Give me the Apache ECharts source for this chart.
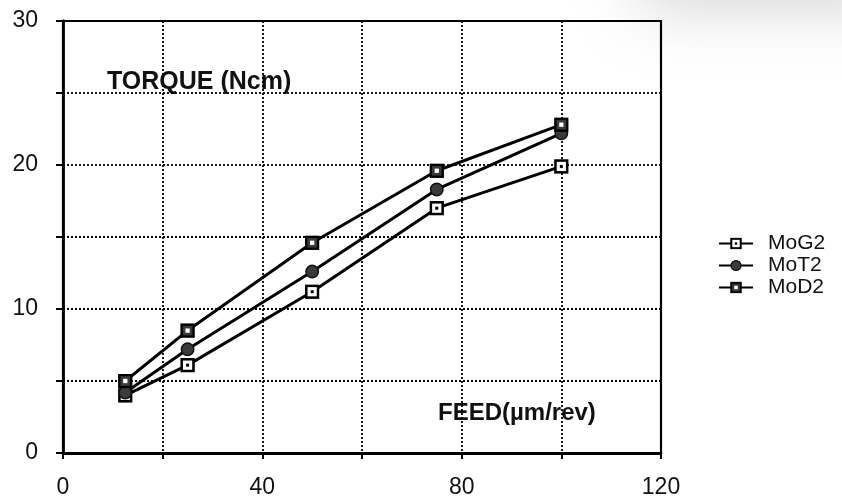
<!DOCTYPE html>
<html>
<head>
<meta charset="utf-8">
<script src="https://cdn.jsdelivr.net/npm/echarts@6/dist/echarts.min.js"></script>
<style>
  html, body { margin: 0; padding: 0; background: #fff; }
  #chart { width: 842px; height: 502px; }
</style>
</head>
<body>
<div id="chart"></div>
<script>
// Feed rate (µm/rev) and measured torque (Ncm) for three drill types
const feed = [12.5, 25, 50, 75, 100];
const moG2 = [4.0, 6.1, 11.2, 17.0, 19.9];
const moT2 = [4.2, 7.2, 12.6, 18.3, 22.2];
const moD2 = [5.0, 8.5, 14.6, 19.6, 22.8];
const seriesNames = ['MoG2', 'MoT2', 'MoD2'];
const xTickLabels = [0, 40, 80, 120];
const yTickLabels = [0, 10, 20, 30];

const FONT = "'Liberation Sans', Arial, Helvetica, sans-serif";

function svgSymbol(body) {
  return 'image://data:image/svg+xml;charset=utf-8,' + encodeURIComponent(
    "<svg xmlns='http://www.w3.org/2000/svg' width='14' height='14' viewBox='0 0 14 14'>" + body + "</svg>");
}
const symOpenSquare = svgSymbol("<rect x='1.5' y='1.5' width='11' height='11' fill='#fff' stroke='#000' stroke-width='2.4'/><rect x='5.6' y='5.6' width='2.8' height='2.8' fill='#000'/>");
const symDisc = svgSymbol("<circle cx='7' cy='7' r='5.8' fill='#3a3a3a' stroke='#111' stroke-width='1.4'/>");
const symFilledSquare = svgSymbol("<rect x='1.4' y='1.4' width='11.2' height='11.2' fill='#3a3a3a' stroke='#000' stroke-width='2.2'/><rect x='5' y='5' width='4' height='4' fill='#fff'/>");

function pairs(ys) { return feed.map((x, i) => [x, ys[i]]); }

function makeSeries(name, ys, symbol) {
  return {
    name: name,
    type: 'line',
    data: pairs(ys),
    symbol: symbol,
    symbolSize: 15,
    showAllSymbol: true,
    lineStyle: { color: '#000', width: 3 },
    itemStyle: { color: '#000' },
    animation: false
  };
}

const gridDash = { color: '#000', width: 1.8, type: [2, 2] };

const chart = echarts.init(document.getElementById('chart'), null, { renderer: 'canvas' });
chart.setOption({
  backgroundColor: '#fff',
  animation: false,
  grid: {
    left: 63, top: 21, right: 181, bottom: 49,
    show: true, borderColor: '#000', borderWidth: 2.2, backgroundColor: 'transparent'
  },
  xAxis: {
    type: 'value', min: 0, max: 120, interval: 20,
    axisLine: { show: true, onZero: false, lineStyle: { color: '#000', width: 2.8 } },
    axisTick: { show: true, length: 6, lineStyle: { color: '#000', width: 2 } },
    splitLine: { show: true, lineStyle: gridDash },
    axisLabel: {
      margin: 23, color: '#111', fontSize: 23, fontFamily: FONT,
      formatter: v => xTickLabels.includes(v) ? String(v) : ''
    }
  },
  yAxis: {
    type: 'value', min: 0, max: 30, interval: 5,
    axisLine: { show: true, onZero: false, lineStyle: { color: '#000', width: 2.8 } },
    axisTick: { show: true, length: 7, lineStyle: { color: '#000', width: 2 } },
    splitLine: { show: true, lineStyle: gridDash },
    axisLabel: {
      margin: 25, color: '#111', fontSize: 23, fontFamily: FONT,
      formatter: v => yTickLabels.includes(v) ? String(v) : ''
    }
  },
  legend: {
    orient: 'vertical',
    left: 713, top: 228,
    itemWidth: 34, itemHeight: 15, itemGap: 1,
    data: seriesNames,
    textStyle: { fontSize: 21, color: '#111', fontFamily: FONT, padding: [0, 0, 0, 10] },
    selectedMode: false
  },
  graphic: [
    {
      // soft grey haze along the upper right edge: the shape sits above the
      // canvas and only its blurred shadow falls inside
      type: 'rect', shape: { x: 640, y: -400, width: 260, height: 400 },
      style: {
        fill: '#bbb',
        shadowBlur: 60,
        shadowOffsetY: 6,
        shadowColor: 'rgba(160,160,160,0.45)'
      },
      silent: true,
      z: -1
    },
    {
      type: 'group',
      children: [
        { type: 'rect', shape: { x: 90, y: 62, width: 222, height: 36 }, style: { fill: '#fff' } },
        { type: 'text', x: 107, y: 82, style: { text: 'TORQUE (Ncm)', font: 'bold 25px ' + FONT, fill: '#111', verticalAlign: 'middle' } }
      ]
    },
    {
      type: 'group',
      children: [
        { type: 'rect', shape: { x: 428, y: 393, width: 186, height: 42 }, style: { fill: '#fff' } },
        { type: 'text', x: 438, y: 413, style: { text: 'FEED(µm/rev)', font: 'bold 24px ' + FONT, fill: '#111', verticalAlign: 'middle' } }
      ]
    }
  ],
  series: [
    makeSeries('MoG2', moG2, symOpenSquare),
    makeSeries('MoT2', moT2, symDisc),
    makeSeries('MoD2', moD2, symFilledSquare)
  ]
});
</script>
</body>
</html>
